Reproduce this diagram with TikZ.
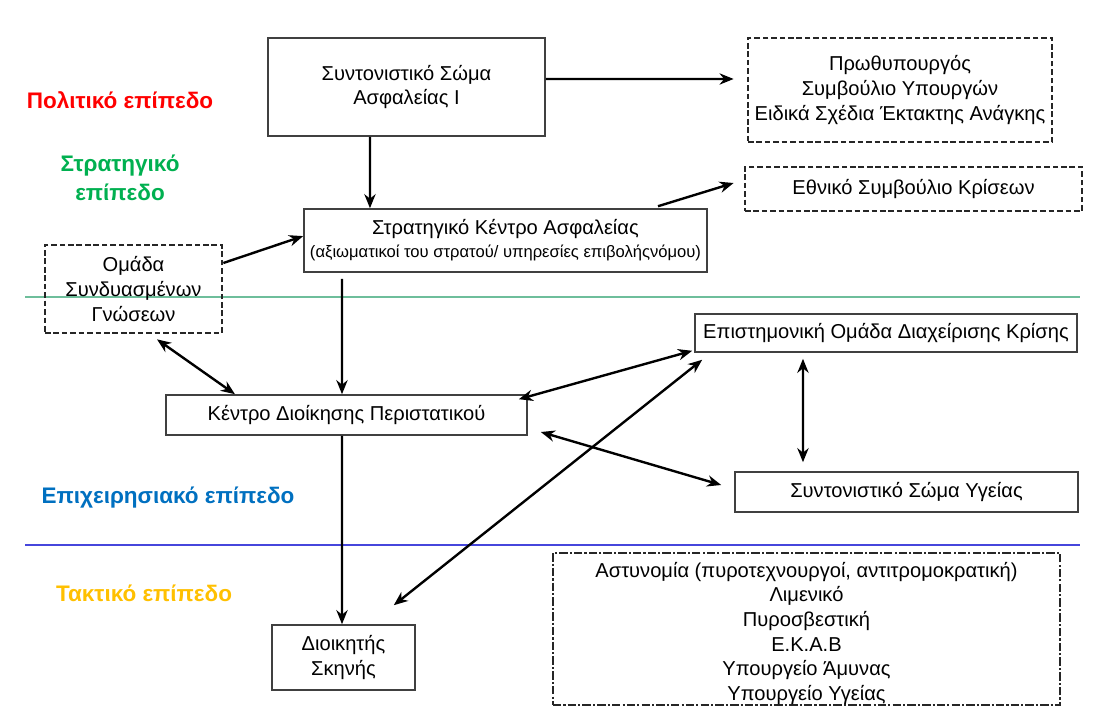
\documentclass[tikz,border=0pt]{standalone}
\usepackage{fontspec}
\setmainfont{Liberation Sans}
\usepackage{xcolor}
\usetikzlibrary{positioning,arrows.meta}

\definecolor{polred}{RGB}{255,0,0}
\definecolor{strgreen}{RGB}{0,176,80}
\definecolor{opblue}{RGB}{0,112,192}
\definecolor{takgold}{RGB}{255,192,0}
\definecolor{lineteal}{RGB}{110,190,155}
\definecolor{lineblue}{RGB}{70,70,220}

\begin{document}
\begin{tikzpicture}[x=0.025cm, y=-0.025cm,
      box/.style={draw=black!75, line width=1.1pt, align=center, inner sep=0pt,
                  font=\fontsize{14.3}{17.5}\selectfont},
      dbox/.style={box, draw=black!85, line width=1.9pt, dash pattern=on 4pt off 2pt},
      ddbox/.style={box, draw=black!85, line width=1.3pt,
                    dash pattern=on 6pt off 1.5pt on 1.5pt off 1.5pt},
      lvl/.style={align=center, font=\fontsize{16}{20.5}\selectfont\bfseries},
      arr/.style={-{Stealth[length=10pt,width=8pt]}, line width=1.7pt},
      darr/.style={{Stealth[length=10pt,width=8pt]}-{Stealth[length=10pt,width=8pt]}, line width=1.7pt}
    ]
      \fill[white] (0,0) rectangle (1094,722);
      \useasboundingbox (0,0) rectangle (1094,722);

      % level separators
      \draw[lineteal, line width=1.2pt] (25,297) -- (1080,297);
      \draw[lineblue, line width=1.2pt] (25,545) -- (1080,545);

      % levels
      \node[lvl, text=polred] (pol) at (120,100) {Πολιτικό επίπεδο};
      \node[lvl, text=strgreen] (str) at (120,178) {Στρατηγικό\\επίπεδο};
      \node[lvl, text=opblue] (epi) at (168,498) {Επιχειρησιακό επίπεδο};
      \node[lvl, text=takgold] (tak) at (144,593) {Τακτικό επίπεδο};

      % boxes
      \node[box, minimum width=6.925cm, minimum height=2.45cm] (sos1) at (406.5,87)
            {Συντονιστικό Σώμα\\Ασφαλείας Ι};
      \node[dbox, minimum width=7.6cm, minimum height=2.6cm] (pm) at (900,90)
            {Πρωθυπουργός\\Συμβούλιο Υπουργών\\Ειδικά Σχέδια Έκτακτης Ανάγκης};
      \node[dbox, minimum width=8.425cm, minimum height=1.1cm] (esk) at (913.5,189)
            {Εθνικό Συμβούλιο Κρίσεων};
      \node[box, minimum width=10.075cm, minimum height=1.575cm] (ska) at (505.5,240.5)
            {Στρατηγικό Κέντρο Ασφαλείας\\[-1pt]
             {\fontsize{11.8}{14}\selectfont (αξιωματικοί του στρατού/ υπηρεσίες επιβολήςνόμου)}};
      \node[dbox, minimum width=4.425cm, minimum height=2.2cm] (omada) at (133.5,289)
            {Ομάδα\\Συνδυασμένων\\Γνώσεων};
      \node[box, minimum width=9.55cm, minimum height=0.95cm] (epist) at (886,333)
            {Επιστημονική Ομάδα Διαχείρισης Κρίσης};
      \node[box, minimum width=9.025cm, minimum height=1cm] (kentro) at (346.5,415)
            {Κέντρο Διοίκησης Περιστατικού};
      \node[box, minimum width=8.575cm, minimum height=1cm] (ygeia) at (906.5,492)
            {Συντονιστικό Σώμα Υγείας};
      \node[ddbox, minimum width=12.675cm, minimum height=3.8cm] (police) at (806.5,629)
            {\rule{0pt}{17pt}Αστυνομία (πυροτεχνουργοί, αντιτρομοκρατική)\\Λιμενικό\\Πυροσβεστική\\Ε.Κ.Α.Β\\Υπουργείο Άμυνας\\Υπουργείο Υγείας};
      \node[box, minimum width=3.575cm, minimum height=1.625cm] (dioik) at (343.5,657.5)
            {Διοικητής\\Σκηνής};

      % connectors
      \draw[arr] ([yshift=0.2cm]sos1.east) -- ([xshift=-0.325cm,yshift=0.275cm]pm.west);
      \draw[arr] ([xshift=-0.9125cm]sos1.south) -- ([xshift=-3.3875cm]ska.north);
      \draw[arr] ([xshift=3.8125cm,yshift=0.05cm]ska.north) -- ([xshift=-0.25cm,yshift=0.15cm]esk.west);
      \draw[arr] ([yshift=0.65cm]omada.east) -- ([yshift=0.11cm]ska.west);
      \draw[arr] ([xshift=-4.0875cm,yshift=-0.15cm]ska.south) -- ([xshift=-0.1125cm]kentro.north);
      \draw[darr] ([xshift=0.5875cm,yshift=-0.125cm]omada.south) -- ([xshift=-2.7875cm]kentro.north);
      \draw[darr] ([xshift=-0.225cm,yshift=-0.125cm]kentro.north east) -- ([xshift=-0.05cm,yshift=0.05cm]epist.south west);
      \draw[darr] ([xshift=-0.55cm,yshift=0.475cm]dioik.north east) -- ([xshift=0.2cm,yshift=-0.175cm]epist.south west);
      \draw[darr] ([xshift=0.325cm,yshift=-0.425cm]kentro.east) -- ([xshift=-0.325cm,yshift=0.175cm]ygeia.west);
      \draw[darr] ([xshift=-2.075cm,yshift=-0.15cm]epist.south) -- ([xshift=-2.5875cm,yshift=0.225cm]ygeia.north);
      \draw[arr] ([xshift=-0.1125cm]kentro.south) -- ([xshift=-0.0375cm]dioik.north);
    \end{tikzpicture}
\end{document}
